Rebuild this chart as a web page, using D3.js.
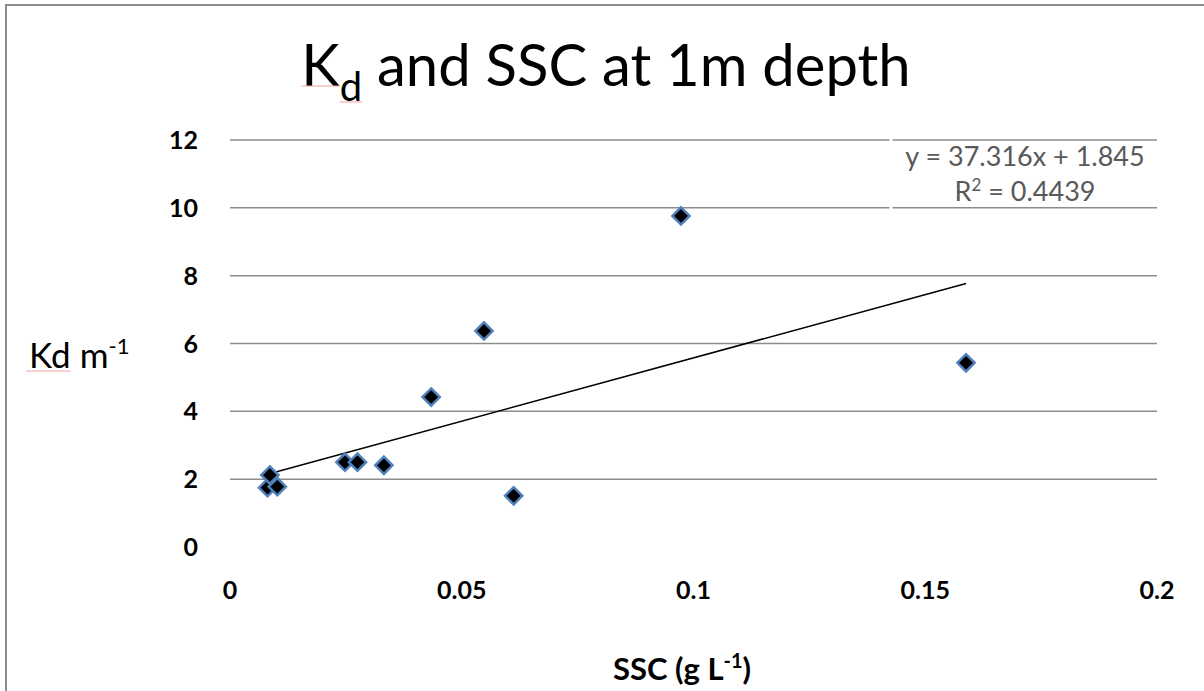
<!DOCTYPE html>
<html>
<head>
<meta charset="utf-8">
<script src="https://cdn.jsdelivr.net/npm/d3@7"></script>
<style>
  body { margin: 0; background: #fff; }
  svg { display: block; }
  text { font-family: Lato, "Open Sans", sans-serif; }
</style>
</head>
<body>
<svg id="chart" width="1204" height="691"></svg>
<script>
// Data
const ssc = [0.0081, 0.0086, 0.0102, 0.0248, 0.0275, 0.0332, 0.0434, 0.0548, 0.0612, 0.0973, 0.1588];
const kd = [1.75, 2.12, 1.78, 2.50, 2.50, 2.41, 4.42, 6.37, 1.51, 9.76, 5.43];
const xTicks = [0, 0.05, 0.1, 0.15, 0.2];
const yTicks = [0, 2, 4, 6, 8, 10, 12];
const slope = 37.316;
const intercept = 1.845;
const rSquared = 0.4439;

const svg = d3.select("#chart");

// Frame
svg.append("path")
  .attr("d", "M6,691 L6,5 L1204,5")
  .attr("fill", "none")
  .attr("stroke", "#8c8c8c")
  .attr("stroke-width", 2);

// Scales
const x = d3.scaleLinear().domain([0, 0.2]).range([230, 1157]);
const y = d3.scaleLinear().domain([0, 12]).range([547, 140]);

// Gridlines (no line at zero)
svg.selectAll("line.grid")
  .data(yTicks.filter((d) => d > 0))
  .enter()
  .append("line")
  .classed("grid", true)
  .attr("x1", x(0))
  .attr("x2", x(0.2))
  .attr("y1", (d) => y(d))
  .attr("y2", (d) => y(d))
  .attr("stroke", "#8c8c8c")
  .attr("stroke-width", 1.5);

// Y tick labels
svg.selectAll("text.ytick")
  .data(yTicks)
  .enter()
  .append("text")
  .classed("ytick", true)
  .attr("x", 198)
  .attr("y", (d) => y(d) + 9)
  .attr("text-anchor", "end")
  .style("font-size", "25px")
  .style("font-weight", "bold")
  .text((d) => d);

// X tick labels
svg.selectAll("text.xtick")
  .data(xTicks)
  .enter()
  .append("text")
  .classed("xtick", true)
  .attr("x", (d) => x(d))
  .attr("y", 599)
  .attr("text-anchor", "middle")
  .style("font-size", "25px")
  .style("font-weight", "bold")
  .text((d) => d);

// Trend line (from the fitted equation, over the data range)
const xMin = d3.min(ssc);
const xMax = d3.max(ssc);
svg.append("path")
  .attr("d", d3.line()([
    [x(xMin), y(slope * xMin + intercept)],
    [x(xMax), y(slope * xMax + intercept)],
  ]))
  .attr("stroke", "#000")
  .attr("stroke-width", 1.5);

// Markers
const diamond = d3.symbol().type(d3.symbolDiamond2).size(190);
svg.selectAll("path.pt")
  .data(ssc.map((v, i) => [v, kd[i]]))
  .enter()
  .append("path")
  .classed("pt", true)
  .attr("d", diamond)
  .attr("transform", (d) => `translate(${x(d[0])},${y(d[1])})`)
  .attr("fill", "#000")
  .attr("stroke", "#4f81bd")
  .attr("stroke-width", 2.5);

// Equation box
svg.append("line")
  .attr("x1", 891).attr("x2", 891)
  .attr("y1", 136).attr("y2", 212)
  .attr("stroke", "#fff").attr("stroke-width", 3);
const eq = svg.append("g").style("fill", "#595959").style("font-size", "27px");
eq.append("text")
  .attr("x", 1025).attr("y", 166)
  .attr("text-anchor", "middle")
  .text(`y = ${slope}x + ${intercept}`);
const r2 = eq.append("text")
  .attr("x", 1025).attr("y", 201)
  .attr("text-anchor", "middle");
r2.append("tspan").text("R");
r2.append("tspan").attr("dy", -10).style("font-size", "17px").text("2");
r2.append("tspan").attr("dy", 10).text(` = ${rSquared}`);

// Title
const title = svg.append("text")
  .attr("x", 606).attr("y", 86)
  .attr("text-anchor", "middle")
  .style("font-size", "58px");
title.append("tspan").text("K");
title.append("tspan").attr("dy", 15).style("font-size", "40px").text("d");
title.append("tspan").attr("dy", -15).text(" and SSC at 1m depth");

// Y axis label
const yl = svg.append("text")
  .attr("x", 29).attr("y", 368)
  .style("font-size", "35px");
yl.append("tspan").text("Kd m");
yl.append("tspan").attr("dy", -14).style("font-size", "22px").text("-1");

// X axis label
const xl = svg.append("text")
  .attr("x", 682).attr("y", 680)
  .attr("text-anchor", "middle")
  .style("font-size", "31px")
  .style("font-weight", "bold");
xl.append("tspan").text("SSC (g L");
xl.append("tspan").attr("dy", -12).style("font-size", "20px").text("-1");
xl.append("tspan").attr("dy", 12).text(")");

// Spell-check squiggles under "K", "d" and "Kd"
const tn = title.node();
const k0 = tn.getStartPositionOfChar(0).x;
const d0 = tn.getStartPositionOfChar(1).x;
const d1 = tn.getEndPositionOfChar(1).x;
const yn = yl.node();
[[k0, d0, 86], [d0, d1, 102],
 [yn.getStartPositionOfChar(0).x - 3, yn.getEndPositionOfChar(1).x, 371]].forEach(([a, b, yy]) => {
  svg.append("line")
    .attr("x1", a).attr("x2", b).attr("y1", yy).attr("y2", yy)
    .attr("stroke", "#f4a0a0").attr("stroke-width", 1);
});
</script>
</body>
</html>
